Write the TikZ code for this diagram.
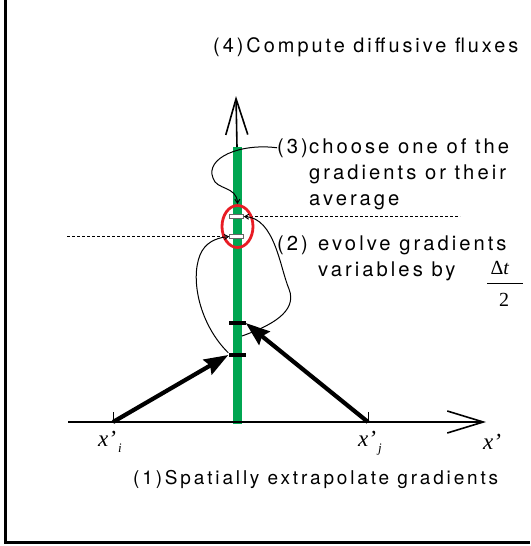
\documentclass[tikz,border=0pt]{standalone}
\usepackage{fontspec}
\setmainfont{TeX Gyre Heros}[LetterSpace=15]
\newfontfamily\serifmath{Liberation Serif}
\usetikzlibrary{arrows.meta,shapes.geometric}
\definecolor{bargreen}{RGB}{0,166,81}
\definecolor{ringred}{RGB}{232,28,36}
\tikzset{
  lbl/.style={inner sep=0pt, anchor=base west, font=\fontsize{20.2}{26}\selectfont},
  mlbl/.style={inner sep=0pt, anchor=base, font=\fontsize{23}{24}\serifmath\itshape},
  axisline/.style={line width=2.6pt, -{Straight Barb[length=36pt,width=22pt,line width=1.6pt]}},
  thickarrow/.style={line width=4.2pt, -{Stealth[length=24pt,width=17pt,inset=3pt]}},
  thinarrow/.style={line width=1pt, -{Straight Barb[length=4pt,width=5pt]}},
  markbar/.style={fill=black, draw=none, minimum width=17pt, minimum height=4pt, inner sep=0pt},
  whitebox/.style={fill=white, draw=black!60, line width=0.7pt, minimum width=14pt, minimum height=4.5pt, inner sep=0pt},
  tick/.style={line width=1pt},
  guide/.style={line width=1pt, dash pattern=on 2.5pt off 2.5pt},
}
\begin{document}
\begin{tikzpicture}[x=1pt,y=-1pt]
\useasboundingbox (0,0) rectangle (530,546);
% frame (only left and bottom sides visible)
\coordinate (ftop) at (5.5,0);
\coordinate (fcorner) at (5.5,542.5);
\coordinate (fright) at (530,542.5);
\draw[line width=3pt] (ftop) -- (fcorner) -- (fright);

% green bar
\coordinate (gtop) at (237,147);
\coordinate (gbot) at (237,424);
\draw[bargreen, line width=9pt] (gtop) -- (gbot);

% vertical axis arrow
\coordinate (vtip) at (236,96);
\draw[line width=1.6pt, -{Straight Barb[length=36pt,width=22pt,line width=1.6pt]}] (gtop) -- (vtip);

% horizontal axis
\coordinate (hL) at (68,422);
\coordinate (hR) at (486,422);
\draw[axisline] (hL) -- (hR);

% ticks
\coordinate (xi) at (113,422);
\coordinate (xit) at (113,412);
\coordinate (xj) at (368,422);
\coordinate (xjt) at (368,412);
\draw[tick] (xi) -- (xit);
\draw[tick] (xj) -- (xjt);

% marks on the bar
\node[markbar] (mup) at (237,323) {};
\node[markbar] (mlo) at (237,355) {};

% thick arrows
\draw[thickarrow] (xi) -- (mlo.west);
\draw[thickarrow] (xj) -- (mup.east);

% dashed guides
\coordinate (dupL) at (245,216.5);
\coordinate (dupR) at (460,216.5);
\coordinate (dloL) at (67,236.5);
\coordinate (dloR) at (229,236.5);
\draw[guide] (dupL) -- (dupR);
\draw[guide] (dloL) -- (dloR);

% red ring and white boxes
\node[draw=ringred, line width=2.8pt, ellipse, minimum width=31pt, minimum height=42pt, inner sep=0pt] (ring) at (237.5,226.5) {};
\node[whitebox] (bup) at (236.5,216.5) {};
\node[whitebox] (blo) at (236.5,236.5) {};

% labels
\node[lbl, font=\fontsize{19.9}{26}\selectfont] (l4) at (213,52) {(4)Compute diffusive fluxes};
\node[lbl] (l3) at (277,153) {(3)};
\node[lbl, align=left, anchor=north west] (l3t) at (309,139) {choose one of the\\gradients or their\\average};
\node[lbl] (l2) at (277,250) {(2)};
\node[lbl, align=left, anchor=north west] (l2t) at (318,236) {evolve gradients\\variables by};
\node[lbl, font=\fontsize{19}{26}\selectfont] (l1) at (133,484) {(1)Spatially extrapolate gradients};

\node[mlbl] (lxi) at (110,446) {x’\raisebox{-6pt}{\fontsize{13}{13}\selectfont\,i}};
\node[mlbl] (lxj) at (370,446) {x’\raisebox{-6pt}{\fontsize{13}{13}\selectfont\,j}};
\node[mlbl] (lx) at (492,449) {x’};

\node[inner sep=0pt, anchor=base, font=\fontsize{20}{22}\serifmath] (dt) at (500,274) {Δ\textit{t}};
\coordinate (fracL) at (487,283);
\coordinate (fracR) at (523,283);
\draw[line width=1pt] (fracL) -- (fracR);
\node[inner sep=0pt, anchor=base, font=\fontsize{20}{22}\serifmath] (two) at (504,306) {2};

% curved connectors
\draw[thinarrow] (l3.west) .. controls (240,143) and (205,158) .. (213,178)
   .. controls (216,190) and (237,186) .. (ring.north);
\draw[thinarrow] (242,336) .. controls (270,326) and (298,312) .. (289,289)
   .. controls (280,268) and (275,218) .. (bup.east);
\draw[thinarrow] (mlo.north west) .. controls (200,325) and (190,280) .. (200,255)
   .. controls (205,243) and (215,238) .. (blo.west);
\end{tikzpicture}
\end{document}
